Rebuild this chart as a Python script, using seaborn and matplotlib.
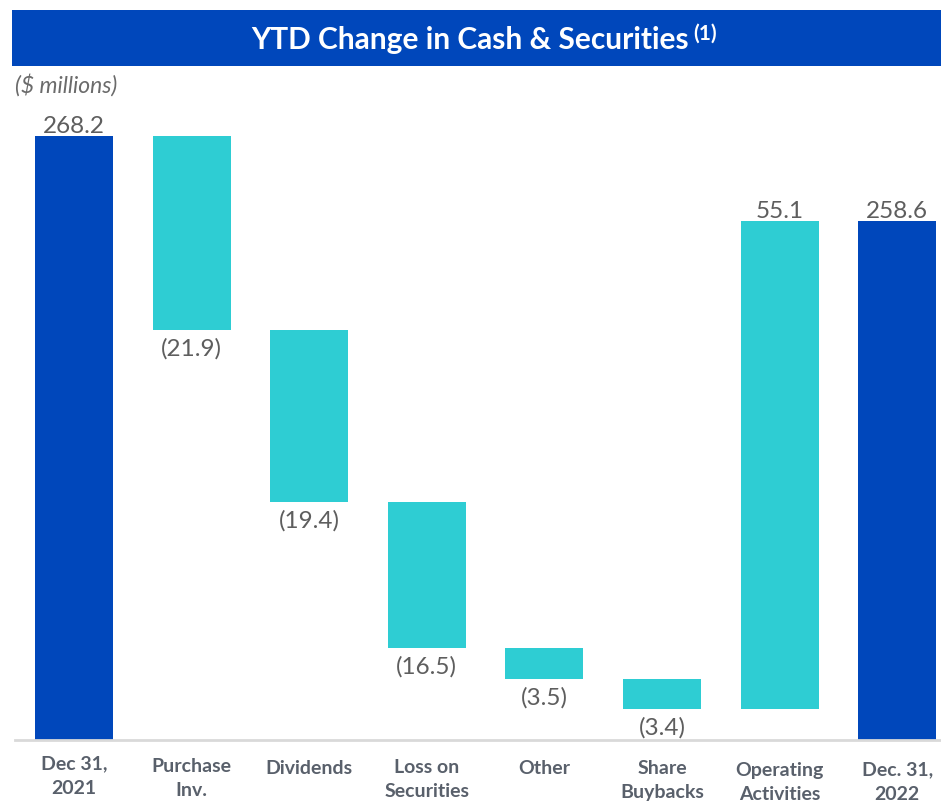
import numpy as np
import pandas as pd
import matplotlib
matplotlib.use("Agg")
import matplotlib.pyplot as plt
import seaborn as sns
from matplotlib.patches import Rectangle
from matplotlib.transforms import ScaledTranslation

# ---------------- data ----------------
categories = ["Dec 31,\n2021", "Purchase\nInv.", "Dividends", "Loss on\nSecurities",
              "Other", "Share\nBuybacks", "Operating\nActivities", "Dec. 31,\n2022"]
start_value = 268.2
changes = [-21.9, -19.4, -16.5, -3.5, -3.4, 55.1]
end_value = 258.6
value_labels = ["268.2", "(21.9)", "(19.4)", "(16.5)", "(3.5)", "(3.4)", "55.1", "258.6"]
axis_floor = 200.0

DARK_BLUE = "#0047BB"
CYAN = "#2ECDD3"
LABEL_GRAY = "#5E5E5E"
CAT_GRAY = "#59606B"

# ---------------- waterfall geometry ----------------
lows, highs, kinds = [axis_floor], [start_value], ["total"]
running = start_value
for c in changes:
    lows.append(min(running, running + c))
    highs.append(max(running, running + c))
    kinds.append("up" if c > 0 else "down")
    running += c
lows.append(axis_floor)
highs.append(end_value)
kinds.append("total")

df = pd.DataFrame({"category": categories,
                   "low": lows, "high": highs, "kind": kinds})
df["height"] = df["high"] - df["low"]
palette = {cat: (DARK_BLUE if k == "total" else CYAN) for cat, k in zip(categories, kinds)}

# ---------------- figure ----------------
sns.set_theme(style="white")
plt.rcParams["font.family"] = ["Lato", "DejaVu Sans"]

W, H = 941, 804
fig = plt.figure(figsize=(W / 100, H / 100), dpi=100)

ax_left, ax_right = 15.2, 941.0
ax_top, ax_bottom = 100.0, 741.0
ax = fig.add_axes([ax_left / W, (H - ax_bottom) / H,
                   (ax_right - ax_left) / W, (ax_bottom - ax_top) / H])

sns.barplot(data=df, x="category", y="height", hue="category", palette=palette,
            order=categories, hue_order=categories, dodge=False, legend=False,
            width=0.663, errorbar=None, linewidth=0, saturation=1, ax=ax)

# lift each bar to its floating position
for p in ax.patches:
    idx = int(round(p.get_x() + p.get_width() / 2))
    p.set_y(df["low"].iloc[idx])
    p.set_height(df["height"].iloc[idx])

px_per_unit = 8.85
ax.set_ylim(axis_floor, axis_floor + (ax_bottom - ax_top) / px_per_unit)
ax.set_xlim(-0.5, (ax_right - ax_left) / 117.6 - 0.5)

# value labels
for i, (lab, kind) in enumerate(zip(value_labels, kinds)):
    if kind == "down":
        ax.annotate(lab, xy=(i, df["low"].iloc[i]), xytext=(0, -5),
                    textcoords="offset points", ha="center", va="top",
                    fontsize=17.5, color=LABEL_GRAY, fontweight="normal",
                    annotation_clip=False)
    else:
        ax.annotate(lab, xy=(i, df["high"].iloc[i]), xytext=(0, 0),
                    textcoords="offset points", ha="center", va="bottom",
                    fontsize=17.5, color=LABEL_GRAY, fontweight="normal",
                    annotation_clip=False)

# axes styling
for s in ["left", "right", "top"]:
    ax.spines[s].set_visible(False)
ax.spines["bottom"].set_color("#D9D9D9")
ax.spines["bottom"].set_linewidth(2.0)
ax.set_yticks([])
ax.set_ylabel("")
ax.set_xlabel("")
ax.set_xticks(range(len(categories)))
ax.set_xticklabels(categories, fontsize=14, fontweight="bold", color=CAT_GRAY,
                   linespacing=1.5)
ax.tick_params(axis="x", which="major", length=0, pad=10.5)
ax.set_xticks(np.arange(-0.5, len(categories) - 0.5, 1.0), minor=True)
ax.tick_params(axis="x", which="minor", length=6, width=2.0, color="#D9D9D9",
               direction="out")

# small per-label vertical nudges (pixels) as in the source layout
label_drop_px = [0, 2, 4, 3, 4, 4, 6, 6]
for lbl, d in zip(ax.get_xticklabels(), label_drop_px):
    lbl.set_transform(lbl.get_transform() + ScaledTranslation(0, -d / 100, fig.dpi_scale_trans))

# ---------------- banner & title ----------------
bax = fig.add_axes([0, 0, 1, 1], zorder=-1)
bax.set_xlim(0, W)
bax.set_ylim(H, 0)
bax.axis("off")
bax.add_patch(Rectangle((12, 11), W - 12, 56, facecolor=DARK_BLUE, edgecolor="none"))
title = bax.text(470, 40, "YTD Change in Cash & Securities", ha="center", va="center",
                 color="white", fontsize=21.5, fontweight="bold")
bax.annotate("(1)", xy=(1, 1), xycoords=title, xytext=(3, 2),
             textcoords="offset points", ha="left", va="top",
             color="white", fontsize=15, fontweight="bold")
bax.text(15, 85, "($ millions)", ha="left", va="center", color="#6B6B6B",
         fontsize=16.5, fontstyle="italic")

fig.savefig("out.png", dpi=100)
